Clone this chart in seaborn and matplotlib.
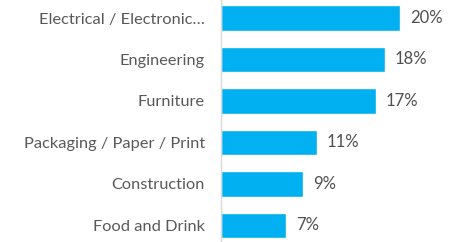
import matplotlib
matplotlib.use("Agg")
import matplotlib.pyplot as plt
import seaborn as sns
import pandas as pd

# Data
sectors = ["Electrical / Electronic…", "Engineering", "Furniture",
           "Packaging / Paper / Print", "Construction", "Food and Drink"]
shares = [20.0, 18.3, 17.3, 10.7, 9.2, 7.3]
share_labels = ["20%", "18%", "17%", "11%", "9%", "7%"]

df = pd.DataFrame({"sector": sectors, "share": shares})

sns.set_theme(style="white")
plt.rcParams["font.family"] = ["Lato", "DejaVu Sans"]

fig = plt.figure(figsize=(4.54, 2.42), dpi=100)
ax = fig.add_axes([221 / 454, 0, 233 / 454, 1])

sns.barplot(data=df, x="share", y="sector", color="#00B0F0", width=0.61,
            saturation=1, ax=ax)

for i, (v, lab) in enumerate(zip(shares, share_labels)):
    ax.text(v + 1.1, i, lab, va="center", ha="left", fontsize=12, color="#505050")

ax.set_xlim(0, 20 * 233 / 179)
ax.set_ylim(5.40, -0.434)
ax.set_xlabel("")
ax.set_ylabel("")
ax.set_xticks([])
ax.tick_params(axis="y", length=0, pad=11.5, labelsize=11.8, labelcolor="#595959")
for s in ["top", "right", "bottom"]:
    ax.spines[s].set_visible(False)
ax.spines["left"].set_color("#D9D9D9")
ax.spines["left"].set_linewidth(1)

fig.savefig("out.png", dpi=100)
